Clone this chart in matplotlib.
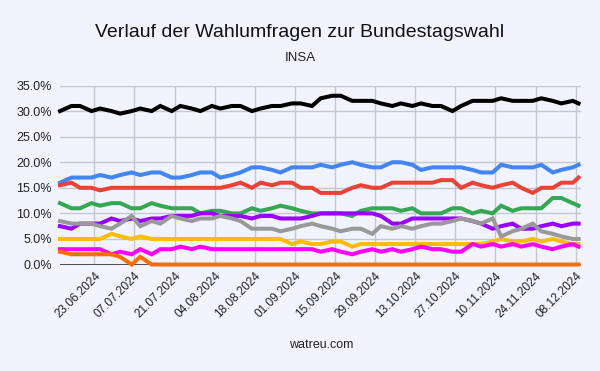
import matplotlib
matplotlib.use("Agg")
import matplotlib.pyplot as plt
import matplotlib.dates as mdates
from matplotlib.ticker import FuncFormatter
import pandas as pd

plt.rcParams['font.family'] = ['Liberation Sans', 'DejaVu Sans']

# poll dates (INSA)
dates = ["11.06.2024", "15.06.2024", "18.06.2024", "22.06.2024", "25.06.2024", "29.06.2024",
         "02.07.2024", "06.07.2024", "09.07.2024", "13.07.2024", "16.07.2024", "20.07.2024",
         "23.07.2024", "27.07.2024", "30.07.2024",
         "03.08.2024", "06.08.2024", "10.08.2024", "13.08.2024", "17.08.2024", "20.08.2024",
         "24.08.2024", "27.08.2024", "31.08.2024",
         "03.09.2024", "07.09.2024", "10.09.2024", "14.09.2024", "17.09.2024", "21.09.2024",
         "24.09.2024", "28.09.2024",
         "01.10.2024", "05.10.2024", "08.10.2024", "12.10.2024", "15.10.2024", "19.10.2024",
         "22.10.2024", "26.10.2024", "29.10.2024",
         "02.11.2024", "05.11.2024", "09.11.2024", "12.11.2024", "16.11.2024", "19.11.2024",
         "23.11.2024", "26.11.2024", "30.11.2024",
         "03.12.2024", "07.12.2024", "09.12.2024"]

# values in percent
cdu = [30, 31, 31, 30, 30.5, 30,
       29.5, 30, 30.5, 30, 31, 30, 31, 30.5, 30,
       31, 30.5, 31, 31, 30, 30.5, 31, 31, 31.5,
       31.5, 31, 32.5, 33, 33, 32, 32, 32,
       31.5, 31, 31.5, 31, 31.5, 31, 31, 30, 31,
       32, 32, 32, 32.5, 32, 32, 32, 32.5, 32,
       31.5, 32, 31.5]
afd = [16, 17, 17, 17, 17.5, 17,
       17.5, 18, 17.5, 18, 18, 17, 17, 17.5, 18,
       18, 17, 17.5, 18, 19, 19, 18.5, 18, 19,
       19, 19, 19.5, 19, 19.5, 20, 19.5, 19,
       19, 20, 20, 19.5, 18.5, 19, 19, 19, 19,
       18.5, 18, 18, 19.5, 19, 19, 19, 19.5, 18,
       18.5, 19, 19.5]
spd = [15.5, 16, 15, 15, 14.5, 15,
       15, 15, 15, 15, 15, 15, 15, 15, 15,
       15, 15, 15.5, 16, 15, 16, 15.5, 16, 16,
       15, 15, 14, 14, 14, 15, 15.5, 15,
       15, 16, 16, 16, 16, 16, 16.5, 16.5, 15,
       16, 15.5, 15, 15.5, 16, 15, 14, 15, 15,
       16, 16, 17]
gruene = [12, 11, 11, 12, 11.5, 12,
          12, 11, 11, 12, 11.5, 11, 11, 11, 10,
          10.5, 10.5, 10, 10, 11, 10.5, 11, 11.5, 11,
          10.5, 10, 10, 10, 10, 9.5, 10.5, 11,
          11, 11, 10.5, 11, 10, 10, 10, 11, 11,
          10, 10.5, 10, 11.5, 10.5, 11, 11, 11, 13,
          13, 12, 11.5]
bsw = [7.5, 7, 8, 8, 8, 9,
       8.5, 9, 8.5, 9, 9, 9.5, 9.5, 9.5, 10,
       10, 9.5, 9.5, 9.5, 9, 9.5, 9.5, 9, 9,
       9, 9.5, 10, 10, 10, 10, 10, 10,
       9.5, 8, 8, 9, 9, 9, 9, 9, 9,
       8.5, 8, 7, 7.5, 8, 7, 7, 7.5, 8,
       7.5, 8, 8]
fdp = [5, 5, 5, 5, 5, 6,
       5.5, 5, 5.5, 5, 5, 5, 5, 5, 5,
       5, 5, 5, 5, 5, 5, 5, 5, 4,
       4.5, 4, 4, 4.5, 4.5, 3.5, 4, 4,
       4, 4, 4, 4, 4, 4, 4, 4, 4,
       4, 4, 4.5, 5, 4.5, 4.5, 5, 4.5, 5,
       4.5, 4, 4]
linke = [3, 3, 3, 3, 3, 2,
         2.5, 2, 3, 2, 3, 3, 3.5, 3, 3.5,
         3, 3, 3, 3, 3, 3, 3, 3, 3,
         3, 3, 2.5, 3, 2.5, 2, 2.5, 3,
         2.5, 3, 2.5, 3, 3.5, 3, 3, 2.5, 2.5,
         4, 3.5, 4, 3.5, 4, 3.5, 4, 3.5, 3,
         3.5, 4, 3.5]
fw = [2.5, 2, 2, 2, 2, 2,
      1.5, 0, 1.5, 0, 0, 0, 0, 0, 0,
      0, 0, 0, 0, 0, 0, 0, 0, 0,
      0, 0, 0, 0, 0, 0, 0, 0,
      0, 0, 0, 0, 0, 0, 0, 0, 0,
      0, 0, 0, 0, 0, 0, 0, 0, 0,
      0, 0, 0]
sonstige = [8.5, 8, 8, 8, 7.5, 7,
            8, 9.5, 7.5, 8.5, 8, 9.5, 9, 8.5, 9,
            9, 9.5, 9, 8.5, 7, 7, 7, 6.5, 7,
            7.5, 8, 7.5, 7, 6.5, 7, 7, 6,
            7.5, 7, 7.5, 7, 7.5, 8, 8, 8.5, 9,
            8.5, 8, 9, 5.5, 6.5, 7, 8, 6.5, 6,
            5.5, 5, 5]

tick_dates = ["23.06.2024", "07.07.2024", "21.07.2024", "04.08.2024", "18.08.2024",
              "01.09.2024", "15.09.2024", "29.09.2024", "13.10.2024", "27.10.2024",
              "10.11.2024", "24.11.2024", "08.12.2024"]

x = pd.to_datetime(dates, format="%d.%m.%Y")
ticks = pd.to_datetime(tick_dates, format="%d.%m.%Y")

bg = "#f1f4fe"
fig = plt.figure(figsize=(6, 3.71), dpi=100, facecolor=bg)
ax = fig.add_axes([0.1, 0.287, 0.869, 0.4825], facecolor=bg)

series = [(cdu, "#000000"), (afd, "#4285f4"), (spd, "#ea4335"), (gruene, "#34a853"),
          (bsw, "#9900ff"), (fdp, "#fbbc04"), (linke, "#ff00ff"), (sonstige, "#999999"),
          (fw, "#ff6d01")]
for vals, col in series:
    ax.plot(x, vals, color=col, lw=2.9, solid_joinstyle="miter", zorder=3, clip_on=False)

ax.set_ylim(0, 35)
ax.set_xlim(pd.Timestamp("2024-06-11"), pd.Timestamp("2024-12-10"))
ax.set_yticks(range(0, 36, 5))
ax.yaxis.set_major_formatter(FuncFormatter(lambda v, p: f"{v:.1f}%"))
ax.set_xticks(ticks)
ax.set_xticklabels(tick_dates, rotation=45, ha="right", rotation_mode="anchor")
ax.grid(True, color="#c4c6d0", lw=1)
ax.axhline(0, color="#333333", lw=1.2, zorder=2)
for s in ax.spines.values():
    s.set_visible(False)
ax.tick_params(length=0, labelsize=9, colors="#222222")
ax.tick_params(axis="x", pad=4, labelsize=8.5)
ax.tick_params(axis="y", pad=6)

fig.text(0.5, 0.913, "Verlauf der Wahlumfragen zur Bundestagswahl", ha="center", va="center",
         fontsize=14, color="#111111")
fig.text(0.5, 0.843, "INSA", ha="center", va="center", fontsize=9.5, color="#222222")
fig.text(0.535, 0.07, "watreu.com", ha="center", va="center", fontsize=9, color="#222222")

fig.savefig("out.png", dpi=100, facecolor=bg)
